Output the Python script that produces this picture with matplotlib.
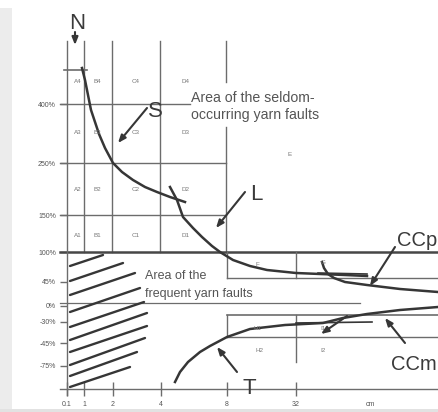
import matplotlib
matplotlib.use("Agg")
import matplotlib.pyplot as plt
from matplotlib.patches import Rectangle

plt.rcParams['font.family'] = ['Liberation Sans', 'DejaVu Sans']

# ---------------- data (positions, in pixel units) -------------
x_tick_labels = ['0.1', '1', '2', '4', '8', '32']
x_tick_pos = [67, 84, 113, 161, 227, 296]
unit_label = 'cm'
unit_pos = 370

y_tick_labels = ['400%', '250%', '150%', '100%', '45%', '0%', '-30%', '-45%', '-75%']
y_tick_pos = [104, 163, 215, 252, 282, 306, 322, 343, 366]

# classification grid (seldom-occurring faults)
col_bounds = [67, 84, 112, 160, 226]
row_lines = [104, 163, 215]          # 400 %, 250 %, 150 %
row_line_ends = [190, 226, 226]
grid_top = 41
a4_top = 70
base_line = 252                      # 100 % line
line_0pct = 303

col_names = ['A', 'B', 'C', 'D']
col_label_x = [78, 97, 136, 185]
row_numbers = [4, 3, 2, 1]
row_label_y = [81, 132, 189, 235]

other_cells = ['E', 'F', 'G', 'H1', 'I1', 'H2', 'I2']
other_cell_x = [290, 257, 323, 258, 323, 259, 323]
other_cell_y = [155, 264, 263, 328, 328, 351, 351]

# frequent faults boxes (right part)
fg_box_bottom = 278
hi_box_top = 315
hi_box_mid = 337
hi_div_bottom = 362

# curves
s_curve_x = [82, 85, 88, 91, 95, 99, 105, 113, 122, 133, 145, 157, 170, 185]
s_curve_y = [68, 80, 95, 110, 122, 134, 148, 163, 172, 180, 187, 192, 197, 202]

l_curve_x = [170, 177, 183, 193, 202, 212, 220, 233, 250, 267, 296, 320, 345, 367]
l_curve_y = [187, 200, 217, 228, 237, 246, 252, 260, 266, 270, 273, 274, 275, 276]

ccp_curve_x = [322, 324, 328, 334, 345, 367, 400, 438]
ccp_curve_y = [262, 268, 274, 278, 282, 285, 289, 292]
ccp_flat_x = [318, 367]
ccp_flat_y = [273, 274]

ccm_curve_x = [175, 180, 188, 200, 210, 227, 250, 285, 323, 343, 367, 400, 438]
ccm_curve_y = [382, 372, 362, 352, 346, 337, 329, 325, 323, 318, 314, 310, 307]
ccm_flat_x = [296, 372]
ccm_flat_y = [323, 322]

# hatch of the frequent-fault area
hatch_x0 = [70, 70, 70, 70, 70, 70, 70, 70, 70, 70]
hatch_y0 = [266, 281, 295, 312, 327, 340, 352, 365, 376, 387]
hatch_x1 = [103, 123, 135, 140, 144, 147, 147, 145, 137, 130]
hatch_y1 = [255, 263, 273, 288, 302, 313, 326, 338, 352, 367]

# big labels and their arrows
big_labels = ['N', 'S', 'L', 'T']
big_label_x = [77, 155, 256, 249]
big_label_y = [23, 111, 194, 389]
arrow_from = [(75, 32), (147, 108), (245, 192), (237, 372), (395, 247), (347, 316), (405, 343)]
arrow_to = [(75, 45), (118, 143), (216, 228), (217, 347), (370, 286), (321, 334), (385, 318)]

# ---------------- drawing --------------------------------------------------------------
fig = plt.figure(figsize=(4.38, 4.12), dpi=100)
ax = fig.add_axes([0, 0, 1, 1])
ax.set_xlim(0, 438)
ax.set_ylim(412, 0)

grid_c = '#6c6c6c'
dark = '#363636'
text_c = '#555555'

# scan-like background
ax.add_patch(Rectangle((0, 8), 12, 404, color='#ececec', lw=0, zorder=0))
ax.add_patch(Rectangle((0, 409), 438, 3, color='#e2e2e2', lw=0, zorder=0))

for s in ['top', 'right']:
    ax.spines[s].set_visible(False)
ax.spines['left'].set_position(('data', 67))
ax.spines['left'].set_bounds(grid_top, 395)
ax.spines['bottom'].set_position(('data', 389))
ax.spines['bottom'].set_bounds(60, 438)
for s in ['left', 'bottom']:
    ax.spines[s].set_color(grid_c)
    ax.spines[s].set_linewidth(1.0)

ax.set_xticks(x_tick_pos)
ax.set_xticklabels(x_tick_labels)
ax.set_yticks(y_tick_pos)
ax.set_yticklabels(y_tick_labels)
ax.tick_params(axis='x', direction='inout', length=9.5, width=1.0, color=grid_c,
               labelsize=5, labelcolor=text_c, pad=4)
ax.tick_params(axis='y', direction='out', length=5, width=1.0, color=grid_c,
               labelsize=5, labelcolor=text_c, pad=3)
ax.text(unit_pos, 405, unit_label, fontsize=5, color=text_c, ha='center', va='center')

# grid of the seldom faults
for x in col_bounds[1:4]:
    ax.plot([x, x], [grid_top, base_line], color=grid_c, lw=1.0)
ax.plot([col_bounds[4]] * 2, [grid_top, 82], color=grid_c, lw=1.0)
ax.plot([col_bounds[4]] * 2, [127, base_line], color=grid_c, lw=1.0)
ax.plot([64, 87], [a4_top, a4_top], color=grid_c, lw=1.2)
for y, xe in zip(row_lines, row_line_ends):
    ax.plot([60, xe], [y, y], color=grid_c, lw=1.0)
ax.plot([60, 438], [base_line, base_line], color='#474747', lw=1.8)
ax.plot([60, 360], [line_0pct, line_0pct], color=grid_c, lw=0.9)

for cn, cx in zip(col_names, col_label_x):
    for rn, ry in zip(row_numbers, row_label_y):
        ax.text(cx, ry, f'{cn}{rn}', fontsize=4.5, color='#777777', ha='center', va='center')
for t, x, y in zip(other_cells, other_cell_x, other_cell_y):
    ax.text(x, y, t, fontsize=4.5, color='#777777', ha='center', va='center')

# right boxes
ax.plot([227, 227], [base_line, fg_box_bottom], color=grid_c, lw=1.0)
ax.plot([296, 296], [base_line, fg_box_bottom], color=grid_c, lw=1.0)
ax.plot([227, 438], [fg_box_bottom, fg_box_bottom], color=grid_c, lw=1.0)
ax.plot([227, 438], [hi_box_top, hi_box_top], color=grid_c, lw=1.2)
ax.plot([227, 438], [hi_box_mid, hi_box_mid], color=grid_c, lw=1.0)
ax.plot([227, 227], [hi_box_top, hi_box_mid], color=grid_c, lw=1.0)
ax.plot([296, 296], [hi_box_top, hi_div_bottom], color=grid_c, lw=1.0)

# hatch
for x0, y0, x1, y1 in zip(hatch_x0, hatch_y0, hatch_x1, hatch_y1):
    ax.plot([x0, x1], [y0, y1], color=dark, lw=1.7, solid_capstyle='round')

# curves
ax.plot(s_curve_x, s_curve_y, color=dark, lw=1.8)
ax.plot(l_curve_x, l_curve_y, color=dark, lw=1.8)
ax.plot(ccp_curve_x, ccp_curve_y, color=dark, lw=1.8)
ax.plot(ccp_flat_x, ccp_flat_y, color=dark, lw=1.2)
ax.plot(ccm_curve_x, ccm_curve_y, color=dark, lw=1.8)
ax.plot(ccm_flat_x, ccm_flat_y, color=dark, lw=1.2)

# arrows
for (xa, ya), (xb, yb) in zip(arrow_from, arrow_to):
    ax.annotate('', xy=(xb, yb), xytext=(xa, ya),
                arrowprops=dict(arrowstyle='-|>,head_length=0.45,head_width=0.18',
                                color=dark, lw=1.5, shrinkA=0, shrinkB=0))

# big labels
for t, x, y in zip(big_labels, big_label_x, big_label_y):
    ax.text(x, y, t, fontsize=16, color='#3a3a3a', ha='center', va='center')
ax.text(437, 240, 'CCp', fontsize=14.5, color='#3a3a3a', ha='right', va='center')
ax.text(437, 364, 'CCm', fontsize=14.5, color='#3a3a3a', ha='right', va='center')

# area texts
ax.text(191, 98, 'Area of the seldom-', fontsize=10.2, color=text_c, ha='left', va='center')
ax.text(191, 115, 'occurring yarn faults', fontsize=10.2, color=text_c, ha='left', va='center')
ax.text(145, 276, 'Area of the', fontsize=9.0, color=text_c, ha='left', va='center')
ax.text(145, 294, 'frequent yarn faults', fontsize=9.0, color=text_c, ha='left', va='center')

fig.savefig('out.png', dpi=100)
